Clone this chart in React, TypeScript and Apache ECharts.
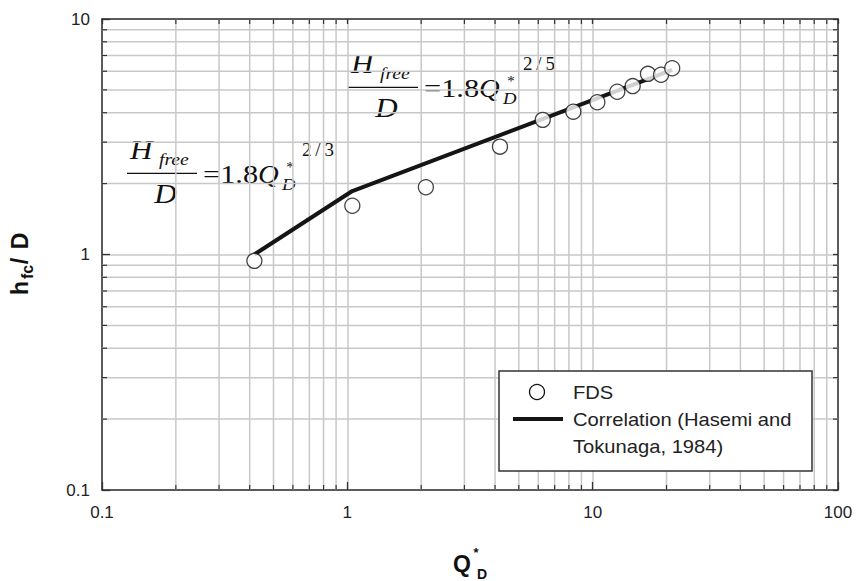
import React, { useEffect, useRef } from "react";
import * as echarts from "echarts";

const qFds = [0.418, 1.048, 2.09, 4.19, 6.26, 8.34, 10.45, 12.6, 14.56, 16.8, 19.0, 21.1];
const hFds = [0.94, 1.61, 1.93, 2.87, 3.73, 4.04, 4.43, 4.91, 5.19, 5.85, 5.8, 6.18];
const qCorr = [0.418, 1.048, 21.1];
const hCorr = [1.0, 1.86, 6.08];

const X_MIN = 0.1, X_MAX = 100, Y_MIN = 0.1, Y_MAX = 10;
const minorMult = [2, 3, 4, 5, 6, 7, 8, 9];
const xDecades = [0.1, 1, 10];
const yDecades = [0.1, 1];

const SERIF = "'Liberation Serif', 'Times New Roman', serif";
const SANS = "'Liberation Sans', Arial, sans-serif";
const GRID_COLOR = "#c8c8c8";
const AXIS_COLOR = "#333";

function eqTexts(dx: number, dy: number, exp: string) {
  const t = (x: number, y: number, text: string, size: number, italic: boolean, sx: number, align = "left") => ({
    type: "text",
    x: x + dx,
    y: y + dy,
    scaleX: sx,
    silent: true,
    style: {
      text,
      fontFamily: SERIF,
      fontSize: size,
      fontStyle: italic ? "italic" : "normal",
      fill: "#111",
      align,
      verticalAlign: "middle",
    },
  });
  return [
    t(351, 64, "H", 27, true, 1.15),
    t(380, 73, "free", 17, true, 1.15),
    {
      type: "line",
      silent: true,
      shape: { x1: 348 + dx, y1: 87.3 + dy, x2: 418 + dx, y2: 87.3 + dy },
      style: { stroke: "#111", lineWidth: 1.2 },
    },
    t(386.5, 108, "D", 27, true, 1.15, "center"),
    t(424, 88, "=1.8", 26, false, 1.17),
    t(479, 88, "Q", 26, true, 1.1),
    t(511, 81, "*", 15, false, 1, "center"),
    t(503, 98, "D", 17, true, 1.1),
    t(523, 63, "2\u2009/\u2009" + exp, 19, false, 1),
  ];
}

export default function App() {
  const ref = useRef<HTMLDivElement>(null);
  useEffect(() => {
    if (!ref.current) return;
    const chart = echarts.init(ref.current, undefined, { renderer: "svg" });
    const xMinor: number[] = [];
    xDecades.forEach((d) => minorMult.forEach((m) => xMinor.push(+(d * m).toPrecision(3))));
    const yMinor: number[] = [];
    yDecades.forEach((d) => minorMult.forEach((m) => yMinor.push(+(d * m).toPrecision(3))));

    const axisCommon = {
      type: "log",
      logBase: 10,
      axisLine: { show: true, onZero: false, lineStyle: { color: AXIS_COLOR, width: 1.5 } },
      minorTick: { show: false },
      minorSplitLine: { show: false },
    };
    const labelStyle = { fontFamily: SANS, fontSize: 17, color: "#222" };
    const tick = (x1: number, y1: number, x2: number, y2: number) => ({
      type: "line",
      shape: { x1, y1, x2, y2 },
      style: { stroke: AXIS_COLOR, lineWidth: 1.2 },
    });

    chart.setOption({
      animation: false,
      backgroundColor: "#fff",
      grid: { left: 102, right: 18, top: 19, bottom: 91 },
      xAxis: [
        {
          ...axisCommon,
          min: X_MIN,
          max: X_MAX,
          position: "bottom",
          axisTick: { show: true, inside: true, length: 8, lineStyle: { color: AXIS_COLOR, width: 1.3 } },
          axisLabel: { ...labelStyle, margin: 14 },
          splitLine: { show: true, lineStyle: { color: GRID_COLOR, width: 1.5 } },
        },
        {
          ...axisCommon,
          min: X_MIN,
          max: X_MAX,
          position: "top",
          axisTick: { show: true, inside: true, length: 5, lineStyle: { color: AXIS_COLOR, width: 1.3 } },
          axisLabel: { show: false },
          splitLine: { show: false },
        },
      ],
      yAxis: [
        {
          ...axisCommon,
          min: Y_MIN,
          max: Y_MAX,
          position: "left",
          axisTick: { show: true, inside: true, length: 8, lineStyle: { color: AXIS_COLOR, width: 1.3 } },
          axisLabel: { ...labelStyle, margin: 12 },
          splitLine: { show: true, lineStyle: { color: GRID_COLOR, width: 1.5 } },
        },
        {
          ...axisCommon,
          min: Y_MIN,
          max: Y_MAX,
          position: "right",
          axisTick: { show: true, inside: true, length: 5, lineStyle: { color: AXIS_COLOR, width: 1.3 } },
          axisLabel: { show: false },
          splitLine: { show: false },
        },
      ],
      series: [
        {
          type: "custom",
          silent: true,
          z: 1,
          data: xMinor.map((v) => [v, Y_MIN]),
          renderItem: (_p: any, api: any) => {
            const v = api.value(0);
            const b = api.coord([v, Y_MIN]);
            const t = api.coord([v, Y_MAX]);
            return {
              type: "group",
              children: [
                { type: "line", shape: { x1: b[0], y1: b[1], x2: t[0], y2: t[1] }, style: { stroke: GRID_COLOR, lineWidth: 1.5 } },
                tick(b[0], b[1], b[0], b[1] - 5),
                tick(t[0], t[1], t[0], t[1] + 5),
              ],
            };
          },
        },
        {
          type: "custom",
          silent: true,
          z: 1,
          data: yMinor.map((v) => [X_MIN, v]),
          renderItem: (_p: any, api: any) => {
            const v = api.value(1);
            const l = api.coord([X_MIN, v]);
            const r = api.coord([X_MAX, v]);
            return {
              type: "group",
              children: [
                { type: "line", shape: { x1: l[0], y1: l[1], x2: r[0], y2: r[1] }, style: { stroke: GRID_COLOR, lineWidth: 1.5 } },
                tick(l[0], l[1], l[0] + 5, l[1]),
                tick(r[0], r[1], r[0] - 5, r[1]),
              ],
            };
          },
        },
        {
          name: "Correlation (Hasemi and Tokunaga, 1984)",
          type: "line",
          data: qCorr.map((q, i) => [q, hCorr[i]]),
          showSymbol: false,
          symbol: "none",
          lineStyle: { color: "#151515", width: 4 },
          z: 3,
        },
        {
          name: "FDS",
          type: "scatter",
          data: qFds.map((q, i) => [q, hFds[i]]),
          symbol: "circle",
          symbolSize: 15,
          itemStyle: { color: "#fff", borderColor: "#151515", borderWidth: 1.3 },
          z: 4,
        },
      ],
      graphic: [
        ...eqTexts(0, 0, "5"),
        ...eqTexts(-221, 86, "3"),
        // legend
        {
          type: "rect",
          silent: true,
          shape: { x: 499, y: 371, width: 313, height: 100 },
          style: { fill: "#fff", stroke: AXIS_COLOR, lineWidth: 1.5 },
          z: 10,
        },
        {
          type: "circle",
          silent: true,
          shape: { cx: 537, cy: 392, r: 7.5 },
          style: { fill: "#fff", stroke: "#151515", lineWidth: 1.3 },
          z: 11,
        },
        {
          type: "line",
          silent: true,
          shape: { x1: 513, y1: 419, x2: 563, y2: 419 },
          style: { stroke: "#151515", lineWidth: 4 },
          z: 11,
        },
        ...[
          ["FDS", 393],
          ["Correlation (Hasemi and", 420],
          ["Tokunaga, 1984)", 447],
        ].map(([text, y]) => ({
          type: "text",
          silent: true,
          x: 573,
          y: y as number,
          scaleX: 1.12,
          z: 11,
          style: { text: text as string, fontFamily: SANS, fontSize: 18, fill: "#222", align: "left", verticalAlign: "middle" },
        })),
        // y axis title
        ...[
          ["h", 20, 288, 23],
          ["fc", 27, 272, 16],
          ["/", 20, 261, 23],
          ["D", 20, 241, 23],
        ].map(([text, x, y, size]) => ({
          type: "text",
          silent: true,
          x: x as number,
          y: y as number,
          rotation: Math.PI / 2,
          style: {
            text: text as string,
            fontFamily: SANS,
            fontWeight: "bold",
            fontSize: size as number,
            fill: "#111",
            align: "center",
            verticalAlign: "middle",
          },
        })),
        // x axis title
        {
          type: "text",
          silent: true,
          x: 462,
          y: 564,
          style: { text: "Q", fontFamily: SANS, fontWeight: "bold", fontSize: 23, fill: "#111", align: "center", verticalAlign: "middle" },
        },
        {
          type: "text",
          silent: true,
          x: 476,
          y: 552,
          style: { text: "*", fontFamily: SANS, fontWeight: "bold", fontSize: 13, fill: "#111", align: "center", verticalAlign: "middle" },
        },
        {
          type: "text",
          silent: true,
          x: 477,
          y: 574,
          style: { text: "D", fontFamily: SANS, fontWeight: "bold", fontSize: 14, fill: "#111", align: "left", verticalAlign: "middle" },
        },
      ],
    });
    return () => chart.dispose();
  }, []);
  return <div ref={ref} style={{ width: 856, height: 581, position: "absolute", left: 0, top: 0 }} />;
}
